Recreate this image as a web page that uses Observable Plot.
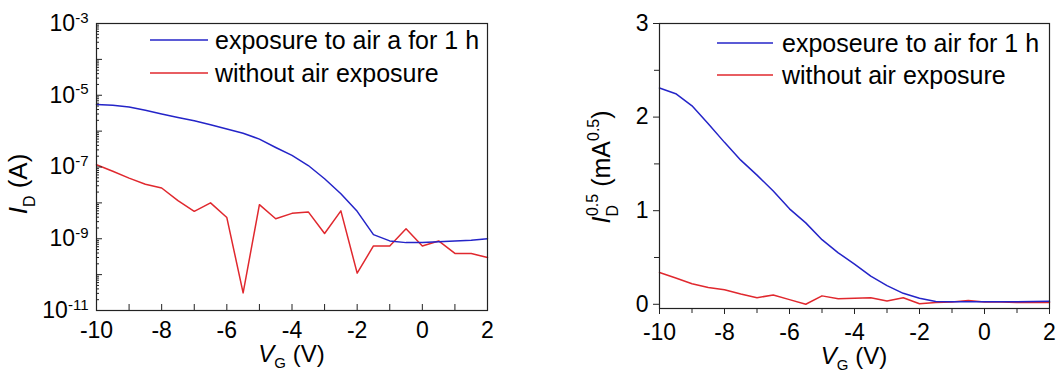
<!DOCTYPE html>
<html><head><meta charset="utf-8">
<script src="https://cdn.jsdelivr.net/npm/d3@7"></script>
<script src="https://cdn.jsdelivr.net/npm/@observablehq/plot@0.6"></script>
<style>
html,body{margin:0;padding:0;background:#fff;}
#wrap{display:flex;width:1062px;height:376px;overflow:hidden;}
svg{font-family:"Liberation Sans",Arial,sans-serif;display:block;}
</style></head><body><div id="wrap"></div>
<script>
// ---- data ----
const vg = [-10,-9.5,-9,-8.5,-8,-7.5,-7,-6.5,-6,-5.5,-5,-4.5,-4,-3.5,-3,-2.5,-2,-1.5,-1,-0.5,0,0.5,1,1.5,2];
// left panel: I_D (A), log scale
const leftExposed = [5.5e-6,5.25e-6,4.7e-6,3.8e-6,3.0e-6,2.4e-6,1.95e-6,1.5e-6,1.15e-6,8.7e-7,6.0e-7,3.5e-7,2.1e-7,1.1e-7,4.7e-8,1.8e-8,5.8e-9,1.3e-9,8.7e-10,7.8e-10,7.8e-10,8.3e-10,8.7e-10,9.1e-10,1.0e-9];
const leftNoExposure = [1.15e-7,7.6e-8,4.9e-8,3.3e-8,2.6e-8,1.15e-8,5.8e-9,1.0e-8,3.9e-9,3.1e-11,8.9e-9,3.6e-9,5.1e-9,5.6e-9,1.4e-9,6.0e-9,1.1e-10,6.3e-10,6.3e-10,1.9e-9,6.3e-10,8.7e-10,3.9e-10,3.9e-10,3.0e-10];
// right panel: I_D^0.5 (mA^0.5)
const rightExposed = [2.31,2.25,2.12,1.93,1.73,1.54,1.38,1.21,1.02,0.87,0.69,0.55,0.43,0.30,0.2,0.117,0.064,0.03,0.027,0.026,0.026,0.027,0.028,0.03,0.032];
const rightNoExposure = [0.34,0.28,0.22,0.18,0.155,0.11,0.07,0.10,0.05,0.0,0.09,0.06,0.065,0.07,0.035,0.07,0.005,0.02,0.025,0.04,0.025,0.025,0.02,0.018,0.018];

const leftNames = ["exposure to air a for 1 h","without air exposure"];
const rightNames = ["exposeure to air for 1 h","without air exposure"];
const colors = ["#2424c8","#e0282e"];

// ticks
const xMajorTicks = [-10,-9,-8,-7,-6,-5,-4,-3,-2,-1,0,1,2];
const xLabelTicks = [-10,-8,-6,-4,-2,0,2];
const xMinorTicks = [-9,-7,-5,-3,-1,1];
const leftYDecades = [1e-11,1e-10,1e-9,1e-8,1e-7,1e-6,1e-5,1e-4,1e-3];
const leftYLabels = [1e-11,1e-9,1e-7,1e-5,1e-3];
const leftYMinor = leftYDecades.slice(0,-1).flatMap(d => [2,3,4,5,6,7,8,9].map(k => k*d));
const rightYLabels = [0,1,2,3];
const rightYMinor = [0.5,1.5,2.5];

const font = '"Liberation Sans", Arial, sans-serif';
const wrap = document.getElementById("wrap");
const toRows = ys => vg.map((v,i) => ({x: v, y: ys[i]}));
const TICK_FS = 23;

// ---- left panel ----
const L = {w:531, h:376, ml:96, mr:44, mt:23, mb:66};
const lpw = L.w - L.ml - L.mr, lph = L.h - L.mt - L.mb;
const left = Plot.plot({
  width: L.w, height: L.h, marginLeft: L.ml, marginRight: L.mr, marginTop: L.mt, marginBottom: L.mb,
  style: {fontFamily: font, fontSize: "23px", color: "#000", background: "#fff", overflow: "visible"},
  x: {domain: [-10, 2]},
  y: {type: "log", domain: [1e-11, 1e-3]},
  marks: [
    Plot.line(toRows(leftNoExposure), {x: "x", y: "y", stroke: colors[1], strokeWidth: 1.5}),
    Plot.line(toRows(leftExposed), {x: "x", y: "y", stroke: colors[0], strokeWidth: 1.5}),
    Plot.frame({stroke: "#222", strokeWidth: 1.2}),
    Plot.tickX(xMajorTicks, {x: d => d, insetTop: lph - 6, stroke: "#222"}),
    Plot.tickY(leftYDecades, {y: d => d, insetRight: lpw - 6, stroke: "#222"}),
    Plot.tickY(leftYMinor, {y: d => d, insetRight: lpw - 3, stroke: "#222"}),
    Plot.axisX(xLabelTicks, {tickSize: 0, tickPadding: 11, fontSize: TICK_FS, tickFormat: d => String(d), label: null}),
    Plot.axisY(leftYLabels, {tickSize: 0, tickPadding: 8, fontSize: TICK_FS, tickFormat: d => "10|" + Math.round(Math.log10(d)), label: null})
  ]
});

// ---- right panel ----
const R = {w:531, h:376, ml:128, mr:13, mt:23, mb:68};
const right = Plot.plot({
  width: R.w, height: R.h, marginLeft: R.ml, marginRight: R.mr, marginTop: R.mt, marginBottom: R.mb,
  style: {fontFamily: font, fontSize: "23px", color: "#000", background: "#fff", overflow: "visible"},
  x: {domain: [-10, 2]},
  y: {domain: [-0.045, 3]},
  marks: [
    Plot.line(toRows(rightNoExposure), {x: "x", y: "y", stroke: colors[1], strokeWidth: 1.5}),
    Plot.line(toRows(rightExposed), {x: "x", y: "y", stroke: colors[0], strokeWidth: 1.5}),
    Plot.frame({stroke: "#222", strokeWidth: 1.2}),
    Plot.axisX(xLabelTicks, {tickSize: 6, tickPadding: 9, fontSize: TICK_FS, tickFormat: d => String(d), label: null, stroke: "#222"}),
    Plot.axisX(xMinorTicks, {tickSize: 5, tickFormat: () => "", label: null, stroke: "#222"}),
    Plot.axisY(rightYLabels, {tickSize: 6, tickPadding: 5, fontSize: TICK_FS, tickFormat: d => String(d), label: null, stroke: "#222"}),
    Plot.axisY(rightYMinor, {tickSize: 5, tickFormat: () => "", label: null, stroke: "#222"})
  ]
});

wrap.append(left, right);

// make sure tick labels use the intended size
for (const svg of [left, right]) {
  d3.select(svg).selectAll('g[aria-label$="tick label"]').style("font-size", TICK_FS + "px");
}

// superscript exponents for log labels
d3.select(left).selectAll("text").each(function() {
  const t = this.textContent;
  if (t.includes("|")) {
    const [b, e] = t.split("|");
    const s = d3.select(this);
    s.text("");
    s.append("tspan").text(b);
    s.append("tspan").attr("dy", "-0.55em").style("font-size", "15px").text(e);
  }
});

function addLegend(svg, names, x0, x1, tx, ys) {
  const g = d3.select(svg).append("g");
  names.forEach((n, i) => {
    g.append("line").attr("x1", x0).attr("x2", x1).attr("y1", ys[i]).attr("y2", ys[i])
      .attr("stroke", colors[i]).attr("stroke-width", 1.5);
    g.append("text").attr("x", tx).attr("y", ys[i] + 9).attr("text-anchor", "start")
      .style("font-family", font).style("font-size", "25px").attr("fill", "#000").text(n);
  });
}
addLegend(left, leftNames, 150, 208, 215, [40, 73]);
addLegend(right, rightNames, 186, 242, 251, [43, 75]);

function baseText(svg, fs) {
  return d3.select(svg).append("text").attr("text-anchor", "middle")
    .style("font-family", font).style("font-size", fs + "px").attr("fill", "#000");
}
function xTitle(svg, cx, y) {
  const t = baseText(svg, 24).attr("x", cx).attr("y", y);
  t.append("tspan").style("font-style", "italic").text("V");
  t.append("tspan").style("font-size", "15px").attr("dy", 6).text("G");
  t.append("tspan").attr("dy", -6).text(" (V)");
}
xTitle(left, L.ml + lpw / 2, 362);
xTitle(right, R.ml + (R.w - R.ml - R.mr) / 2, 364);

// y titles
{
  const t = baseText(left, 26).attr("transform", "translate(27,184) rotate(-90)");
  t.append("tspan").style("font-style", "italic").text("I");
  t.append("tspan").style("font-size", "16px").attr("dy", 8).text("D");
  t.append("tspan").attr("dy", -8).text(" (A)");
}
{
  const t = baseText(right, 25).attr("transform", "translate(79,167) rotate(-90)");
  t.append("tspan").style("font-style", "italic").text("I");
  t.append("tspan").style("font-size", "16px").attr("dy", 8).text("D");
  t.append("tspan").style("font-size", "16px").attr("dx", -11).attr("dy", -20).text("0.5");
  t.append("tspan").attr("dy", 12).text(" (mA");
  t.append("tspan").style("font-size", "16px").attr("dy", -11).text("0.5");
  t.append("tspan").attr("dy", 11).text(")");
}
</script></body></html>
